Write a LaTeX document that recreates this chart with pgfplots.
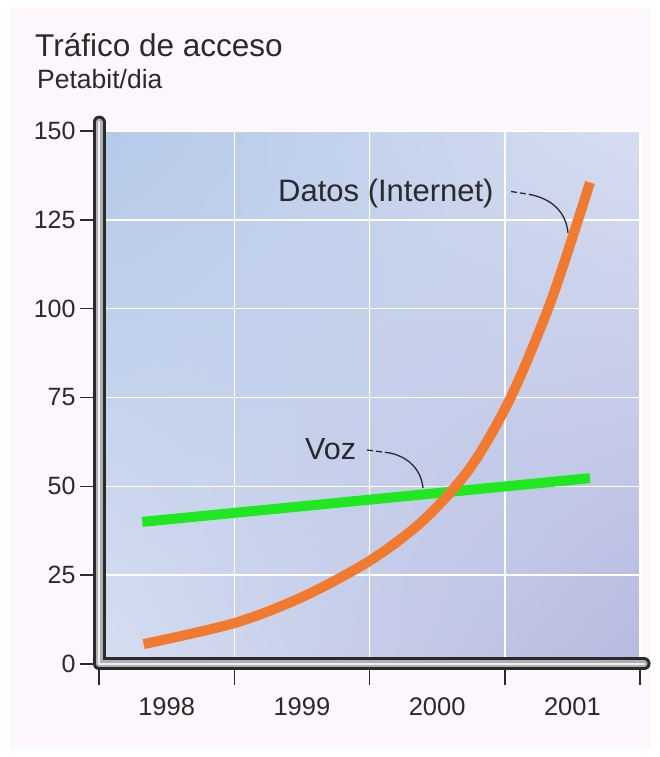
\documentclass[border=0pt]{standalone}
\usepackage{fontspec}
\setmainfont{Liberation Sans}
\usepackage{pgfplots}
\pgfplotsset{compat=1.18}
\usetikzlibrary{shadings}
\definecolor{bgpink}{HTML}{FDF6FC}
\definecolor{bgA}{HTML}{B4C9E9}
\definecolor{bgB}{HTML}{D6DDF1}
\definecolor{bgC}{HTML}{D6DEF1}
\definecolor{bgD}{HTML}{B6BAE0}
\definecolor{txt}{HTML}{2A2A2A}
\definecolor{orangeC}{HTML}{F07A30}
\definecolor{greenC}{HTML}{20E820}
\definecolor{tubeDark}{HTML}{2A2A2A}
\definecolor{tubeLight}{HTML}{B0B0B4}
\begin{document}
\begin{tikzpicture}[x=1pt,y=1pt]
\fill[white] (0,0) rectangle (659,757);
\fill[bgpink] (10,8) rectangle (651,749);
\node[anchor=base west, font=\fontsize{31.5}{34}\selectfont, text=txt, inner sep=0] at (35,700) {Tráfico de acceso};
\node[anchor=base west, font=\fontsize{26.5}{28}\selectfont, text=txt, inner sep=0] at (37,668) {Petabit/dia};
\begin{axis}[
  at={(99pt,93pt)}, anchor=south west,
  scale only axis, width=541pt, height=533pt,
  xmin=0, xmax=4, ymin=0, ymax=150,
  clip=false,
  axis line style={draw=none},
  axis background/.style={shade, upper left=bgA, upper right=bgB, lower left=bgC, lower right=bgD},
  xtick={0,1,2,3,4}, xticklabels={},
  ytick={0,25,50,75,100,125,150},
  xtick pos=bottom, ytick pos=left,
  grid=major, grid style={white, line width=1.5pt},
  tick align=outside,
  major tick length=21pt,
  tick style={tubeDark, line width=1.5pt},
  ytick style={/pgfplots/major tick length=19pt},
  yticklabel style={font=\fontsize{25}{25}\selectfont, text=txt, xshift=1pt},
  /pgf/number format/assume math mode=true,
  extra x ticks={0.5,1.5,2.5,3.5},
  extra x tick labels={1998,1999,2000,2001},
  extra x tick style={grid=none, major tick length=0pt,
     tick label style={font=\fontsize{25.5}{25}\selectfont, text=txt, yshift=-30pt}},
]
\addplot[greenC, line width=10pt] coordinates {(0.32,40) (3.63,52.3)};
\addplot[orangeC, line width=10pt, smooth] coordinates {
(0.33,5.6) (1.0,11.5) (1.5,18.8) (2.0,29) (2.4,40.5) (2.75,55.5) (3.05,75.5) (3.35,103) (3.63,135.5)};
\draw[line width=13pt, tubeDark, line cap=round, line join=round] (axis cs:0,152.5) -- (axis cs:0,0) -- (axis cs:4.03,0);
\draw[line width=7pt, tubeLight, line cap=round, line join=round] (axis cs:0,152.5) -- (axis cs:0,0) -- (axis cs:4.03,0);
\draw[line width=2.5pt, white!80!tubeLight, line cap=round, line join=round] (axis cs:0,152.5) -- (axis cs:0,0) -- (axis cs:4.03,0);
\end{axis}
\node[anchor=base west, font=\fontsize{31}{32}\selectfont, text=txt, inner sep=0] at (278,555) {Datos (Internet)};
\draw[line width=1.3pt, txt, dash pattern=on 6pt off 3pt] (511,565.5) -- (530,562.5);
\draw[line width=1.3pt, txt] (530,562.5) .. controls (552,558) and (566,545) .. (568,524);
\node[anchor=base west, font=\fontsize{30.5}{32}\selectfont, text=txt, inner sep=0] at (305,297) {Voz};
\draw[line width=1.3pt, txt, dash pattern=on 6pt off 3pt] (367,307) -- (390,304);
\draw[line width=1.3pt, txt] (390,304) .. controls (408,300) and (421,288) .. (423,269);
\end{tikzpicture}
\end{document}
